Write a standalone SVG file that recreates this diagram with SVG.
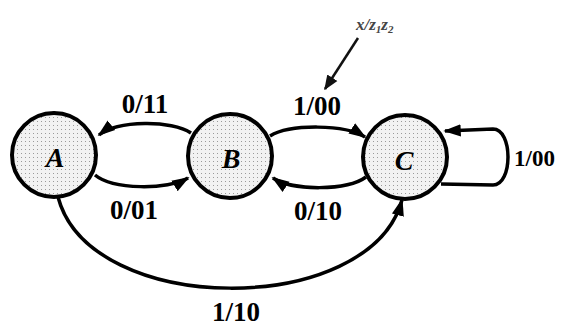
<svg xmlns="http://www.w3.org/2000/svg" width="562" height="328" viewBox="0 0 562 328">
  <defs>
    <marker id="arrow" viewBox="0 0 10 10" refX="9" refY="5" markerWidth="5" markerHeight="5" orient="auto" markerUnits="strokeWidth">
      <path d="M0,1.5 L10,5 L0,8.5 Z" fill="#000"/>
    </marker>
    <marker id="arrowThin" viewBox="0 0 10 10" refX="9" refY="5" markerWidth="6" markerHeight="6" orient="auto" markerUnits="strokeWidth">
      <path d="M0,1 L10,5 L0,9 Z" fill="#111"/>
    </marker>
    <pattern id="stipple" width="4" height="4" patternUnits="userSpaceOnUse">
      <rect width="4" height="4" fill="#f2f2f2"/>
      <rect x="1" y="1" width="1" height="1" fill="#9a9a9a"/>
    </pattern>
  </defs>
  <style>
    .state { fill: url(#stipple); stroke: #000; stroke-width: 4; }
    .name { font-family: "Liberation Serif", serif; font-weight: bold; font-style: italic; font-size: 28px; text-anchor: middle; fill: #000; }
    .edge { fill: none; stroke: #000; stroke-width: 3.5; marker-end: url(#arrow); }
    .label { font-family: "Liberation Serif", serif; font-weight: bold; font-size: 27px; text-anchor: middle; fill: #000; }
    .label.side { text-anchor: start; font-size: 23px; }
    .note { font-family: "Liberation Serif", serif; font-weight: bold; font-style: italic; font-size: 17px; fill: #444; }
  </style>

  <rect width="562" height="328" fill="#fff"/>

  <g id="connectors">
    <!-- B -> A, 0/11 -->
    <path class="edge" d="M191,133 C172,120 118,120 99,135"/>
    <!-- A -> B, 0/01 -->
    <path class="edge" d="M95,175 C113,190 168,190 188,178"/>
    <!-- B -> C, 1/00 -->
    <path class="edge" d="M270,136 C290,124 345,124 365,137"/>
    <!-- C -> B, 0/10 -->
    <path class="edge" d="M366,177 C347,191 292,191 273,178"/>
    <!-- A -> C, 1/10 -->
    <path class="edge" d="M58,197 C90,318 370,318 402,200"/>
    <!-- C -> C, 1/00 -->
    <path class="edge" d="M441,184 L493,185 C513,185 513,129 493,129 L445,131"/>
    <!-- annotation pointer -->
    <path d="M358,38 L325,89" fill="none" stroke="#111" stroke-width="2.5" marker-end="url(#arrowThin)"/>
  </g>

  <g id="A">
    <circle class="state" cx="54" cy="155" r="42"/>
    <text class="name" x="55" y="167">A</text>
  </g>
  <g id="B">
    <circle class="state" cx="230" cy="156" r="42"/>
    <text class="name" x="231" y="168">B</text>
  </g>
  <g id="C">
    <circle class="state" cx="405" cy="157" r="42"/>
    <text class="name" x="404" y="170">C</text>
  </g>

  <g id="labels">
    <text class="label" x="145" y="113">0/11</text>
    <text class="label" x="134" y="219">0/01</text>
    <text class="label" x="317" y="115">1/00</text>
    <text class="label" x="318" y="220">0/10</text>
    <text class="label" x="236" y="321">1/10</text>
    <text class="label side" x="514" y="166">1/00</text>
    <text class="note" x="356" y="30">x/z<tspan font-size="11" dy="3">1</tspan><tspan dy="-3">z</tspan><tspan font-size="11" dy="3">2</tspan></text>
  </g>
</svg>
